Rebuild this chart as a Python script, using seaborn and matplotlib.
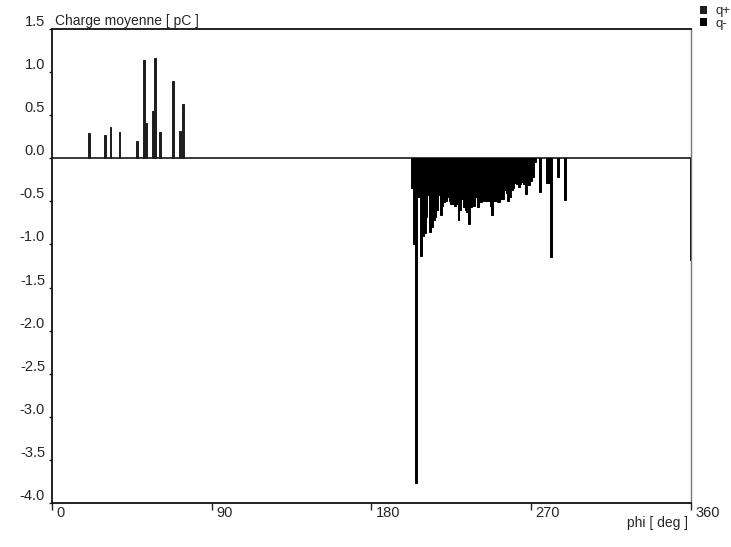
import numpy as np
import pandas as pd
import matplotlib
matplotlib.use('Agg')
import matplotlib.pyplot as plt
import matplotlib.transforms as mtransforms
import seaborn as sns

# positive charges (q+), phi in deg
phi_pos = [21, 30, 33, 38, 48, 52, 53, 57, 58, 61, 68, 72, 74]
q_pos = [0.29, 0.27, 0.36, 0.31, 0.20, 1.14, 0.41, 0.55, 1.16, 0.30, 0.90, 0.32, 0.63]

# negative charges (q-)
phi_neg = [203, 204, 205, 206, 207, 208, 209, 210, 211, 212,
           213, 214, 215, 216, 217, 218, 219, 220, 221, 222,
           223, 224, 225, 226, 227, 228, 229, 230, 231, 232,
           233, 234, 235, 236, 237, 238, 239, 240, 241, 242,
           243, 244, 245, 246, 247, 248, 249, 250, 251, 252,
           253, 254, 255, 256, 257, 258, 259, 260, 261, 262,
           263, 264, 265, 266, 267, 268, 269, 270, 271, 272,
           275, 279, 280, 281, 285, 289, 360]
q_neg = [-0.35, -0.99, -3.77, -0.45, -0.45, -1.13, -0.90, -0.87, -0.68, -0.43,
         -0.85, -0.80, -0.72, -0.68, -0.60, -0.43, -0.66, -0.55, -0.51, -0.49,
         -0.45, -0.49, -0.53, -0.53, -0.55, -0.53, -0.72, -0.60, -0.47, -0.56,
         -0.60, -0.62, -0.76, -0.56, -0.55, -0.55, -0.45, -0.56, -0.51, -0.51,
         -0.49, -0.49, -0.49, -0.49, -0.55, -0.66, -0.49, -0.49, -0.51, -0.51,
         -0.47, -0.47, -0.37, -0.40, -0.49, -0.45, -0.37, -0.35, -0.29, -0.30,
         -0.33, -0.30, -0.27, -0.30, -0.41, -0.31, -0.31, -0.26, -0.22, -0.04,
         -0.39, -0.29, -0.29, -1.14, -0.22, -0.48, -1.18]

x_ticks = [0, 90, 180, 270, 360]
x_labels = ['0', '90', '180', '270', '360']
y_ticks = [-4.0, -3.5, -3.0, -2.5, -2.0, -1.5, -1.0, -0.5, 0.0, 0.5, 1.0, 1.5]
y_labels = ['-4.0', '-3.5', '-3.0', '-2.5', '-2.0', '-1.5', '-1.0', '-0.5', '0.0', '0.5', '1.0', '1.5']

df = pd.DataFrame({
    'phi': phi_pos + phi_neg,
    'q': q_pos + q_neg,
    'serie': ['q+'] * len(phi_pos) + ['q-'] * len(phi_neg),
})

sns.set_style('white')
plt.rcParams['font.family'] = ['Liberation Sans', 'DejaVu Sans']

fig = plt.figure(figsize=(7.31, 5.47), dpi=100)
ax = fig.add_axes([0.0711, 0.0804, 0.8742, 0.8666])

pal = {'q+': '#1e1e1e', 'q-': '#000000'}
sns.barplot(data=df, x='phi', y='q', hue='serie', native_scale=True, dodge=False,
            errorbar=None, width=1, palette=pal, saturation=1, linewidth=0, ax=ax)
# thicken the thin bars a little, like the scanned original
for patch in ax.patches:
    patch.set_edgecolor(patch.get_facecolor())
    patch.set_linewidth(0.7)

ax.axhline(0, color='#2a2a2a', lw=1.3, zorder=0.5)

ax.set_xlim(0, 360)
ax.set_ylim(-4.0, 1.5)
ax.set_xticks(x_ticks)
ax.set_xticklabels(x_labels, fontsize=10.5)
ax.set_yticks(y_ticks)
ax.set_yticklabels(y_labels, fontsize=10.5)
ax.tick_params(axis='x', bottom=True, direction='out', length=5, width=1, pad=-3, color='#222')
ax.tick_params(axis='y', left=True, direction='out', length=2.5, width=1, pad=2.5, color='#222')

offset = mtransforms.ScaledTranslation(3 / 72, 0, fig.dpi_scale_trans)
for lab in ax.get_xticklabels():
    lab.set_horizontalalignment('left')
    lab.set_transform(lab.get_transform() + offset)
for lab in ax.get_yticklabels():
    lab.set_verticalalignment('bottom')

for side in ['left', 'bottom', 'top']:
    ax.spines[side].set_color('#111')
    ax.spines[side].set_linewidth(1.3)
ax.spines['right'].set_color('#777')
ax.spines['right'].set_linewidth(1.0)

ax.set_xlabel('phi [ deg ]', fontsize=10, ha='right')
ax.xaxis.set_label_coords(0.995, -0.028)
ax.set_ylabel('')
ax.text(0.005, 1.003, 'Charge moyenne [ pC ]', transform=ax.transAxes,
        fontsize=10, va='bottom', ha='left')

sns.move_legend(ax, 'upper left', bbox_to_anchor=(1.014, 1.05), frameon=False,
                title=None, fontsize=9.5, handlelength=0.55, handleheight=0.55,
                handletextpad=0.6, labelspacing=0.05, borderpad=0, borderaxespad=0)

fig.savefig('out.png', dpi=100)
